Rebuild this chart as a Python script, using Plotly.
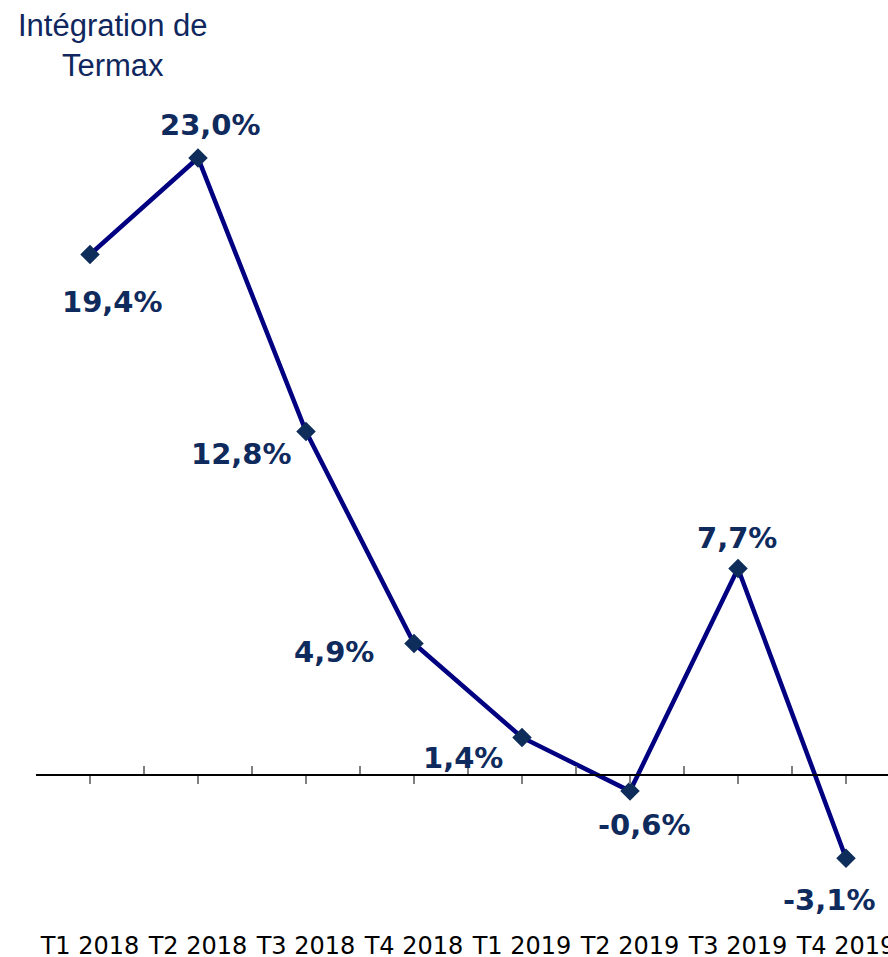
import plotly.graph_objects as go

categories = ["T1 2018", "T2 2018", "T3 2018", "T4 2018", "T1 2019", "T2 2019", "T3 2019", "T4 2019"]
values = [19.4, 23.0, 12.8, 4.9, 1.4, -0.6, 7.7, -3.1]
title_text = "Intégration de<br>Termax"

# label offsets in pixels (style)
label_dx = [22, 12, -65, -80, -59, 14, -1, -17]
label_dy = [-47, 33, -22, -8, -21, -34, 30, -42]

W, H = 888, 957
ml, mr, mt, mb = 36, 0, 100, 28
plot_w = W - ml - mr
plot_h = H - mt - mb
x_range = [-0.5, -0.5 + plot_w / 108.0]
y_range = [-5.74, 25.16]
zero_pos = (0 - y_range[0]) / (y_range[1] - y_range[0])

label_color = "#0F2A5C"

fig = go.Figure()
fig.add_trace(go.Scatter(
    x=categories, y=values, mode="lines+markers",
    line=dict(color="#000080", width=4.5),
    marker=dict(symbol="diamond", size=15, color="#0F2D5A"),
    hoverinfo="x+y", showlegend=False,
))
for ax in ["x2", "x3"]:
    fig.add_trace(go.Scatter(
        x=categories, y=values, mode="markers", xaxis=ax,
        marker=dict(opacity=0), hoverinfo="skip", showlegend=False,
    ))

for c, v, dx, dy in zip(categories, values, label_dx, label_dy):
    fig.add_annotation(
        x=c, y=v, xref="x", yref="y",
        text=f"{v:.1f}".replace(".", ",") + "%",
        showarrow=False, xshift=dx, yshift=dy,
        xanchor="center", yanchor="middle",
        font=dict(family="DejaVu Sans", size=29, color=label_color, weight="bold"),
    )

fig.add_annotation(
    text=title_text, xref="paper", yref="paper",
    x=(113 - ml) / plot_w, xanchor="center",
    y=1 + (mt - 6) / plot_h, yanchor="top",
    showarrow=False, align="center",
    font=dict(family="Liberation Sans, Arial", size=31, color="#10275E"),
)

fig.update_layout(
    width=W, height=H,
    margin=dict(l=ml, r=mr, t=mt, b=mb, pad=0, autoexpand=False),
    paper_bgcolor="white", plot_bgcolor="white",
    xaxis=dict(
        type="category", range=x_range, showline=False, ticks="",
        showgrid=False, zeroline=False, automargin=False,
        tickfont=dict(family="DejaVu Sans", size=24, color="black"),
    ),
    xaxis2=dict(
        type="category", range=x_range, overlaying="x", anchor="free", position=zero_pos,
        showline=True, linecolor="black", linewidth=1.5, automargin=False,
        ticks="inside", tickson="boundaries", ticklen=8, tickcolor="#808080", tickwidth=1.5,
        showticklabels=False, showgrid=False, zeroline=False,
    ),
    xaxis3=dict(
        type="category", range=x_range, overlaying="x", anchor="free", position=zero_pos,
        showline=False, automargin=False,
        ticks="outside", tickson="labels", ticklen=8, tickcolor="#808080", tickwidth=1.5,
        showticklabels=False, showgrid=False, zeroline=False,
    ),
    yaxis=dict(range=y_range, visible=False, showgrid=False, zeroline=False, automargin=False),
)

fig.write_html(
    "out.html",
    config={"displayModeBar": False},
    post_script="document.body.style.margin='0';document.body.style.overflow='hidden';",
)
